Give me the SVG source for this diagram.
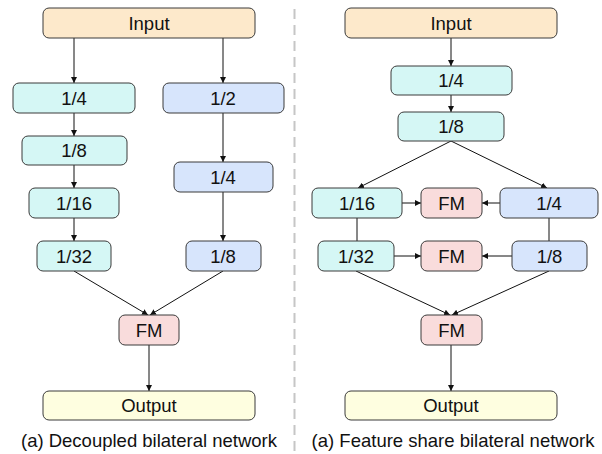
<svg xmlns="http://www.w3.org/2000/svg" width="602" height="454" viewBox="0 0 602 454">
  <style>
    .box { stroke: #3a3a3a; stroke-width: 1; }
    .in { fill: #fde9cb; }
    .c { fill: #d5f7f5; }
    .b { fill: #d7e5fc; }
    .fm { fill: #f9dcdc; }
    .out { fill: #fefee0; }
    text { font-family: "Liberation Sans", Arial, sans-serif; font-size: 18.5px; fill: #111; text-anchor: middle; }
    .edge { stroke: #111; stroke-width: 1; fill: none; }
    .arr { marker-end: url(#ah); }
  </style>
  <defs>
    <marker id="ah" viewBox="0 0 10 10" refX="10" refY="5" markerWidth="6" markerHeight="6" markerUnits="userSpaceOnUse" orient="auto">
      <path d="M0,0 L10,5 L0,10 z" fill="#111"/>
    </marker>
  </defs>

  <rect width="602" height="454" fill="#fff"/>

  <!-- divider -->
  <line x1="294.5" y1="9" x2="294.5" y2="454" stroke="#c6c6c6" stroke-width="2" stroke-dasharray="10 6"/>

  <!-- connectors -->
  <g id="connectors">
    <!-- left: decoupled -->
    <line class="edge arr" x1="74" y1="38" x2="74" y2="83"/>
    <line class="edge arr" x1="223" y1="38" x2="223" y2="83"/>
    <line class="edge arr" x1="74" y1="113" x2="74" y2="136"/>
    <line class="edge arr" x1="74" y1="165" x2="74" y2="188"/>
    <line class="edge arr" x1="74" y1="218" x2="74" y2="241"/>
    <line class="edge arr" x1="223" y1="113" x2="223" y2="162"/>
    <line class="edge arr" x1="223" y1="192" x2="223" y2="241"/>
    <line class="edge arr" x1="74" y1="271" x2="148" y2="315"/>
    <line class="edge arr" x1="223" y1="271" x2="150" y2="315"/>
    <line class="edge arr" x1="149" y1="345" x2="149" y2="391"/>
    <!-- right: feature share -->
    <line class="edge arr" x1="451" y1="38" x2="451" y2="66"/>
    <line class="edge arr" x1="451" y1="95" x2="451" y2="112"/>
    <line class="edge arr" x1="451" y1="141" x2="358" y2="188"/>
    <line class="edge arr" x1="451" y1="141" x2="547" y2="188"/>
    <line class="edge arr" x1="402" y1="203" x2="421" y2="203"/>
    <line class="edge arr" x1="500" y1="203" x2="482" y2="203"/>
    <line class="edge" x1="357" y1="218" x2="357" y2="241"/>
    <line class="edge" x1="549" y1="218" x2="549" y2="241"/>
    <line class="edge arr" x1="394" y1="256" x2="421" y2="256"/>
    <line class="edge arr" x1="512" y1="256" x2="482" y2="256"/>
    <line class="edge arr" x1="356" y1="271" x2="450" y2="315"/>
    <line class="edge arr" x1="549" y1="271" x2="452" y2="315"/>
    <line class="edge arr" x1="451" y1="345" x2="451" y2="391"/>
  </g>

  <!-- left network nodes -->
  <g id="l-input"><rect class="box in" x="43" y="8" width="212" height="30" rx="6"/><text x="149" y="29.5">Input</text></g>
  <g id="l-c4"><rect class="box c" x="13" y="83" width="122" height="30" rx="6"/><text x="74" y="104.5">1/4</text></g>
  <g id="l-b2"><rect class="box b" x="163" y="83" width="121" height="30" rx="6"/><text x="223" y="104.5">1/2</text></g>
  <g id="l-c8"><rect class="box c" x="22" y="136" width="105" height="29" rx="6"/><text x="74" y="157">1/8</text></g>
  <g id="l-b4"><rect class="box b" x="174" y="162" width="99" height="30" rx="6"/><text x="223" y="183.5">1/4</text></g>
  <g id="l-c16"><rect class="box c" x="29" y="188" width="90" height="30" rx="6"/><text x="74" y="209.5">1/16</text></g>
  <g id="l-c32"><rect class="box c" x="37" y="241" width="74" height="30" rx="6"/><text x="74" y="262.5">1/32</text></g>
  <g id="l-b8"><rect class="box b" x="186" y="241" width="75" height="30" rx="6"/><text x="223" y="262.5">1/8</text></g>
  <g id="l-fm"><rect class="box fm" x="119" y="315" width="60" height="30" rx="6"/><text x="149" y="336.5">FM</text></g>
  <g id="l-output"><rect class="box out" x="43" y="391" width="212" height="29" rx="6"/><text x="149" y="412">Output</text></g>
  <text x="149" y="447">(a) Decoupled bilateral network</text>

  <!-- right network nodes -->
  <g id="r-input"><rect class="box in" x="345" y="8" width="212" height="30" rx="6"/><text x="451" y="29.5">Input</text></g>
  <g id="r-c4"><rect class="box c" x="391" y="66" width="121" height="29" rx="6"/><text x="451" y="87">1/4</text></g>
  <g id="r-c8"><rect class="box c" x="398" y="112" width="106" height="29" rx="6"/><text x="451" y="133">1/8</text></g>
  <g id="r-c16"><rect class="box c" x="312" y="188" width="90" height="30" rx="6"/><text x="357" y="209.5">1/16</text></g>
  <g id="r-fm1"><rect class="box fm" x="421" y="188" width="61" height="30" rx="6"/><text x="451.5" y="209.5">FM</text></g>
  <g id="r-b4"><rect class="box b" x="500" y="188" width="98" height="30" rx="6"/><text x="549" y="209.5">1/4</text></g>
  <g id="r-c32"><rect class="box c" x="318" y="241" width="76" height="30" rx="6"/><text x="356" y="262.5">1/32</text></g>
  <g id="r-fm2"><rect class="box fm" x="421" y="241" width="61" height="30" rx="6"/><text x="451.5" y="262.5">FM</text></g>
  <g id="r-b8"><rect class="box b" x="512" y="241" width="75" height="30" rx="6"/><text x="549.5" y="262.5">1/8</text></g>
  <g id="r-fm3"><rect class="box fm" x="421" y="315" width="61" height="30" rx="6"/><text x="451.5" y="336.5">FM</text></g>
  <g id="r-output"><rect class="box out" x="345" y="391" width="212" height="29" rx="6"/><text x="451" y="412">Output</text></g>
  <text x="453" y="447">(a) Feature share bilateral network</text>
</svg>
